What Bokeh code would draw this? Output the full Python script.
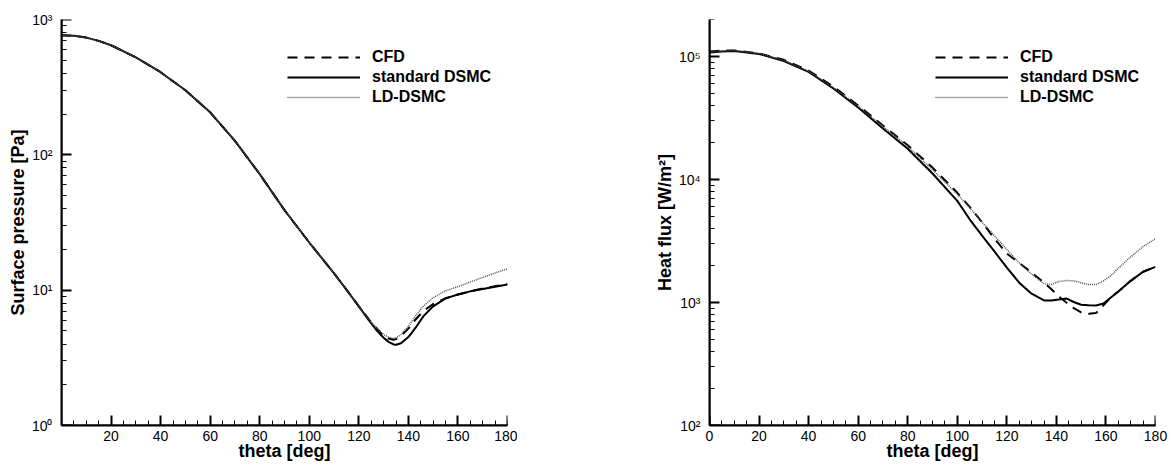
from bokeh.plotting import figure
from bokeh.layouts import row
from bokeh.models import Range1d, FixedTicker, Legend, LegendItem, LinearAxis, LogAxis
from bokeh.embed import file_html
from bokeh.resources import INLINE

# ---- data ----
theta_p = [0, 5, 10, 15, 20, 30, 40, 50, 60, 70, 80, 90, 100, 110, 115, 120, 124, 127, 130, 132, 134, 135,
           137, 140, 143, 146, 150, 155, 160, 165, 170, 175, 180]
p_dsmc = [765, 757, 735, 695, 645, 525, 408, 300, 206, 127, 72, 39, 22.5, 13.3, 10.1, 7.6, 6.0, 5.1, 4.45, 4.15,
          3.97, 3.95, 4.05, 4.5, 5.3, 6.4, 7.6, 8.7, 9.3, 9.8, 10.2, 10.6, 11.0]
p_cfd = [765, 757, 735, 695, 645, 525, 408, 300, 206, 127, 72, 39, 22.5, 13.3, 10.1, 7.6, 6.1, 5.25, 4.6, 4.4,
         4.3, 4.35, 4.6, 5.2, 6.1, 7.0, 7.9, 8.7, 9.3, 9.8, 10.3, 10.7, 11.1]
p_ld = [765, 757, 735, 695, 645, 525, 408, 300, 206, 127, 72, 39, 22.5, 13.3, 10.1, 7.6, 6.1, 5.3, 4.7, 4.5,
        4.4, 4.45, 4.7, 5.4, 6.5, 7.6, 8.8, 9.9, 10.6, 11.5, 12.4, 13.4, 14.4]

theta_q = [0, 5, 10, 20, 30, 40, 50, 60, 70, 80, 90, 100, 105, 110, 115, 120, 125, 130, 135, 138,
           141, 144, 147, 150, 153, 156, 159, 162, 165, 170, 175, 180]
q_dsmc = [108000, 110000, 111000, 105000, 92000, 75000, 55000, 38500, 26000, 17800, 11200, 6700, 4750, 3500,
          2600, 1920, 1450, 1180, 1040, 1040, 1060, 1080, 1010, 960, 950, 945, 980, 1100, 1230, 1500, 1780, 1950]
q_cfd = [110000, 112000, 112000, 106000, 94000, 77000, 57000, 40000, 27500, 19000, 12500, 7800, 6000, 4500,
         3300, 2500, 2100, 1750, 1450, 1280, 1120, 1000, 900, 830, 810, 820, 950, 1100, 1230, 1500, 1780, 1950]
q_ld = [109000, 111000, 112000, 106000, 93000, 76000, 56000, 39500, 27000, 18600, 12000, 7600, 5900, 4500,
        3500, 2700, 2100, 1700, 1420, 1400, 1480, 1510, 1500, 1450, 1400, 1400, 1500, 1650, 1900, 2350, 2850, 3300]

series_names = ["CFD", "standard DSMC", "LD-DSMC"]
x_major_left = [20, 40, 60, 80, 100, 120, 140, 160, 180]
x_major_right = [0, 20, 40, 60, 80, 100, 120, 140, 160, 180]
x_minor = list(range(0, 181, 5))
y_labels_left = {1: "10\u2070", 10: "10\u00b9", 100: "10\u00b2", 1000: "10\u00b3"}
y_labels_right = {100: "10\u00b2", 1000: "10\u00b3", 10000: "10\u2074", 100000: "10\u2075"}

FONT = "Liberation Sans"


def log_minors(lo, hi):
    out = []
    dec = lo
    while dec < hi:
        for m in range(2, 10):
            v = m * dec
            if v <= hi * 1.0001:
                out.append(v)
        dec *= 10
    return out


def tick_axis(ax, ticks):
    # pinned to the frame edge; its ticks point into the plot, its labels are blank
    ax.axis_line_width = 2
    ax.axis_line_color = "black"
    ax.major_tick_in = 0
    ax.major_tick_out = 10
    ax.minor_tick_in = 0
    ax.minor_tick_out = 5
    ax.major_tick_line_width = 2
    ax.minor_tick_line_width = 1
    ax.major_tick_line_color = "black"
    ax.minor_tick_line_color = "black"
    ax.major_label_standoff = 0
    ax.major_label_overrides = {float(t): "" for t in ticks}


def make_fig(width, left, right, ylo, yhi, ylabels, xmajor, ylabel, th, ser):
    p = figure(width=width, height=466, x_range=Range1d(0, 180), y_range=Range1d(ylo, yhi),
               y_axis_type="log", output_backend="svg", toolbar_location=None,
               min_border_left=left, min_border_right=right, min_border_top=19, min_border_bottom=41)
    p.grid.visible = False
    p.outline_line_color = None
    p.background_fill_color = "white"
    p.border_fill_color = "white"

    r_cfd = p.line(th, ser[0], line_color="black", line_width=2, line_dash="10 7")
    r_dsmc = p.line(th, ser[1], line_color="black", line_width=2)
    r_ld = p.line(th, ser[2], line_color="#555555", line_width=1.5, line_dash="1 1")

    ymajor = list(ylabels.keys())
    xticker = FixedTicker(ticks=xmajor, minor_ticks=x_minor)
    yticker = FixedTicker(ticks=ymajor, minor_ticks=log_minors(ylo, yhi))

    # label axes (normal placement, no tick marks)
    xa = p.xaxis[0]
    xa.ticker = FixedTicker(ticks=xmajor, minor_ticks=[])
    ya = p.yaxis[0]
    ya.ticker = FixedTicker(ticks=ymajor, minor_ticks=[])
    ya.major_label_overrides = {float(k): v for k, v in ylabels.items()}
    for ax in (xa, ya):
        ax.axis_line_width = 2
        ax.axis_line_color = "black"
        ax.major_tick_line_color = None
        ax.minor_tick_line_color = None
        ax.major_tick_in = 0
        ax.major_tick_out = 0
        ax.minor_tick_in = 0
        ax.minor_tick_out = 0
        ax.major_label_text_font = FONT
        ax.major_label_text_font_size = "14px"
        ax.major_label_text_color = "black"
        ax.axis_label_text_font = FONT
        ax.axis_label_text_font_size = "18px"
        ax.axis_label_text_font_style = "bold"
        ax.axis_label_text_color = "black"
    xa.axis_label = "theta [deg]"
    xa.major_label_standoff = 5
    xa.axis_label_standoff = -3
    ya.axis_label = ylabel
    ya.major_label_standoff = 9
    ya.axis_label_standoff = 1

    # tick axes pinned to the bottom / left frame edges, ticks pointing inward
    xt = LinearAxis(ticker=xticker, fixed_location=ylo)
    tick_axis(xt, xmajor)
    p.add_layout(xt, "above")
    yt = LogAxis(ticker=yticker, fixed_location=0)
    tick_axis(yt, ymajor)
    p.add_layout(yt, "right")

    legend = Legend(items=[LegendItem(label=series_names[0], renderers=[r_cfd]),
                           LegendItem(label=series_names[1], renderers=[r_dsmc]),
                           LegendItem(label=series_names[2], renderers=[r_ld])],
                    location=(226, 318))
    legend.border_line_color = None
    legend.background_fill_alpha = 0
    legend.padding = 0
    legend.margin = 0
    legend.spacing = 0
    legend.glyph_width = 73
    legend.glyph_height = 20
    legend.label_height = 20
    legend.label_standoff = 12
    legend.label_text_font = FONT
    legend.label_text_font_size = "16px"
    legend.label_text_font_style = "bold"
    legend.label_text_color = "black"
    p.add_layout(legend, "center")
    return p


p1 = make_fig(517, 61, 10, 1, 1000, y_labels_left, x_major_left, "Surface pressure [Pa]",
              theta_p, [p_cfd, p_dsmc, p_ld])
p2 = make_fig(653, 192, 15, 100, 200000, y_labels_right, x_major_right, "Heat flux [W/m\u00b2]",
              theta_q, [q_cfd, q_dsmc, q_ld])

layout = row(p1, p2)
with open("out.html", "w", encoding="utf-8") as f:
    f.write(file_html(layout, INLINE))
